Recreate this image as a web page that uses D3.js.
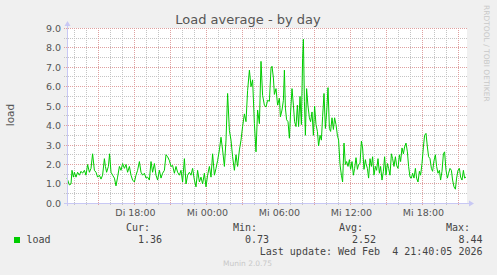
<!DOCTYPE html>
<html>
<head>
<meta charset="utf-8">
<script src="https://cdn.jsdelivr.net/npm/d3@7"></script>
<style>
  body { margin: 0; background: #f0f0f0; }
  svg { display: block; font-family: "DejaVu Sans", sans-serif; }
</style>
</head>
<body>
<svg id="chart" width="497" height="275"></svg>
<script>
// minutes after the graph start (Di 12:20:05), one reading per point
const minutes = [
  0, 12, 20, 25, 32, 37, 45, 53, 62, 70, 78, 87, 95, 103, 112, 120, 128, 137, 145, 153,
  162, 170, 178, 187, 192, 198, 207, 213, 220, 228, 237, 245, 253, 262, 270, 278, 287, 295, 303, 312,
  320, 328, 337, 345, 353, 362, 370, 378, 387, 395, 403, 412, 420, 428, 437, 445, 453, 462, 470, 478,
  487, 495,
  503, 512, 520, 528, 537, 545, 553, 562, 570, 578, 587, 595, 603, 612, 620, 628, 637, 645, 653, 662,
  670, 678, 687, 695, 703, 712, 720, 728, 737, 745, 753, 762, 770, 778, 787, 795, 803, 812, 820, 828,
  837, 845, 853, 862, 870, 878, 887, 895, 903, 912, 920, 928, 937, 945, 953, 962, 970, 978, 987, 995,
  1003, 1012, 1020, 1025, 1032, 1037, 1045, 1053, 1062, 1067, 1075, 1082, 1087, 1092, 1098, 1105, 1112, 1118, 1125, 1132,
  1138, 1145, 1152, 1158, 1165, 1172, 1178, 1182, 1187, 1192, 1198, 1205, 1212, 1218, 1225, 1232, 1238, 1245, 1252, 1258,
  1265, 1272, 1278, 1285, 1292, 1298, 1305, 1312, 1318, 1325, 1332, 1338, 1345, 1352, 1358, 1365, 1372, 1378, 1385, 1392,
  1398, 1405, 1412, 1418, 1425, 1432, 1438, 1445, 1452, 1458, 1465, 1472, 1478, 1485, 1492,
  1495, 1502, 1508, 1515, 1522, 1528, 1535, 1542, 1548, 1555, 1562, 1568, 1575, 1582, 1588, 1595, 1602, 1608, 1615, 1622,
  1628, 1635, 1642, 1648, 1655, 1662, 1668, 1675, 1682, 1688, 1695, 1702, 1708, 1715, 1722, 1728, 1735, 1742, 1748, 1755,
  1762, 1768, 1775, 1782, 1788, 1795, 1802, 1808, 1815, 1822, 1828, 1835, 1842, 1848, 1855, 1862, 1868, 1875, 1882, 1888,
  1895, 1902, 1908, 1915, 1922, 1928, 1935, 1942, 1948, 1955, 1962, 1968, 1975, 1982, 1988, 1995
];
const loads = [
  1.3, 0.95, 1.0, 1.7, 1.35, 1.6, 1.35, 1.6, 1.45, 1.65, 1.55, 1.7, 1.45, 2.0, 1.6, 1.8, 2.55, 1.7, 1.6, 1.35,
  1.45, 1.25, 1.45, 2.3, 1.9, 1.6, 1.9, 2.55, 1.6, 1.45, 1.3, 0.9, 1.35, 1.9, 1.7, 2.05, 1.8, 2.0, 1.6, 1.9,
  1.45, 1.2, 1.1, 1.45, 1.7, 2.15, 1.6, 1.45, 1.55, 1.3, 1.35, 1.2, 2.15, 1.6, 2.05, 1.45, 1.2, 1.7, 1.3, 1.55,
  1.7, 2.5,
  2.4, 2.2, 1.9, 1.95, 1.55, 1.9, 1.6, 1.45, 1.7, 1.1, 2.3, 1.0, 1.45, 1.6, 1.45, 1.8, 1.2, 0.85, 1.7, 1.1,
  1.35, 1.0, 1.55, 0.85, 1.45, 1.9, 1.35, 2.55, 1.45, 1.8, 2.2, 2.75, 3.4, 2.75, 1.9, 3.25, 5.65, 3.75, 3.25, 2.4,
  1.7, 2.5, 1.9, 2.75, 3.25, 3.95, 4.6, 4.2, 5.8, 6.85, 6.0, 6.35, 4.1, 2.65, 4.8, 4.1, 7.3, 5.55, 5.05, 4.95,
  5.3, 5.25, 6.95, 7.05, 6.45, 5.6, 5.9, 5.05, 5.4, 4.45, 4.8, 5.3, 6.85, 4.9, 4.3, 4.2, 3.35, 4.7, 5.9, 5.05,
  4.2, 3.95, 5.05, 3.95, 5.5, 4.05, 7.45, 8.44, 5.25, 3.5, 5.9, 5.0, 4.4, 4.2, 4.7, 3.5, 5.0, 4.05, 3.7, 2.95,
  3.5, 3.25, 4.45, 5.65, 3.85, 4.65, 5.95, 3.85, 3.7, 4.4, 3.8, 4.4, 4.05, 3.5, 3.25, 2.0, 1.45, 1.1, 3.1, 2.0,
  2.15, 1.9, 2.25, 1.75, 2.15, 1.45, 1.8, 2.35, 1.75, 2.0, 2.05, 3.2, 2.85, 1.75, 2.25,
  2.05, 1.8, 1.3, 2.3, 1.9, 2.4, 1.45, 1.9, 1.7, 2.3, 1.55, 1.9, 1.2, 1.65, 2.4, 1.45, 2.05, 1.8, 1.45, 2.55,
  2.3, 1.9, 2.4, 1.95, 1.8, 2.5, 2.15, 2.85, 2.55, 2.9, 3.1, 2.65, 1.9, 1.35, 1.3, 1.55, 1.3, 1.8, 1.3, 1.1,
  1.65, 1.45, 2.05, 2.9, 3.5, 3.6, 2.9, 2.4, 2.3, 1.8, 1.65, 2.2, 2.5, 1.9, 1.55, 1.7, 1.2, 1.65, 2.55, 2.65,
  1.7, 1.3, 1.55, 1.8, 1.7, 1.2, 0.85, 0.73, 1.3, 1.7, 1.8, 1.35, 1.2, 1.7, 1.3, 1.36
];

const dayNames = ["So", "Mo", "Di", "Mi", "Do", "Fr", "Sa"];
const yTicks = [0, 1, 2, 3, 4, 5, 6, 7, 8, 9];
const legendHeads = ["Cur:", "Min:", "Avg:", "Max:"];
const legendValues = ["1.36", "0.73", "2.52", "8.44"];
const lastUpdate = "Last update: Wed Feb  4 21:40:05 2026";

const start = new Date(2026, 1, 3, 12, 20, 5);
const end = new Date(2026, 1, 4, 21, 40, 5);

const svg = d3.select("#chart");
const plotL = 67, plotR = 467, plotT = 28, plotB = 203;

const x = d3.scaleTime().domain([start, end]).range([plotL, plotR]);
const y = d3.scaleLinear().domain([0, 9]).range([plotB + 0.4, plotT + 0.3]);
const snap = v => Math.round(v - 0.5) + 0.5;

const data = minutes.map((m, i) => ({ t: new Date(+start + m * 60000), v: loads[i] }));

// canvas
svg.append("rect").attr("width", 497).attr("height", 275).attr("fill", "#f0f0f0");
svg.append("rect")
  .attr("x", plotL).attr("y", plotT)
  .attr("width", plotR - plotL).attr("height", plotB - plotT)
  .attr("fill", "#fff");

// grid: minor (grey) and major (red), dotted
const minorCol = "#c4c4c4", majorCol = "#dfa0a0";
const minorY = d3.range(0.5, 9, 1);
svg.append("g").selectAll("line").data(minorY).join("line")
  .attr("x1", plotL - 3).attr("x2", plotR)
  .attr("y1", d => snap(y(d))).attr("y2", d => snap(y(d)))
  .attr("stroke", minorCol).attr("stroke-dasharray", "1,1");

const hours = d3.timeHour.range(d3.timeHour.ceil(start), end);
svg.append("g").selectAll("line").data(hours.filter(h => h.getHours() % 3 !== 0)).join("line")
  .attr("x1", d => snap(x(d))).attr("x2", d => snap(x(d)))
  .attr("y1", plotT).attr("y2", plotB + 2)
  .attr("stroke", minorCol).attr("stroke-dasharray", "1,1");

svg.append("g").selectAll("line").data(yTicks.slice(1)).join("line")
  .attr("x1", plotL - 3).attr("x2", plotR)
  .attr("y1", d => snap(y(d))).attr("y2", d => snap(y(d)))
  .attr("stroke", majorCol).attr("stroke-dasharray", "1,1");

svg.append("g").selectAll("line").data(hours.filter(h => h.getHours() % 3 === 0)).join("line")
  .attr("x1", d => snap(x(d))).attr("x2", d => snap(x(d)))
  .attr("y1", plotT).attr("y2", plotB + 2)
  .attr("stroke", majorCol).attr("stroke-dasharray", "1,1");

// load line
svg.append("path")
  .datum(data)
  .attr("fill", "none")
  .attr("stroke", "#00cc00")
  .attr("stroke-width", 1)
  .attr("d", d3.line().x(d => x(d.t)).y(d => y(d.v)));

// axis lines with arrows
const axisCol = "#c8c8f4";
svg.append("line").attr("x1", plotL + 0.5).attr("x2", plotL + 0.5)
  .attr("y1", plotB + 3).attr("y2", 25).attr("stroke", axisCol);
svg.append("path").attr("d", `M${plotL - 2.5},26 L${plotL + 0.5},21 L${plotL + 3.5},26 Z`).attr("fill", axisCol);
svg.append("line").attr("x1", plotL - 3).attr("x2", plotR + 3)
  .attr("y1", plotB + 0.5).attr("y2", plotB + 0.5).attr("stroke", axisCol);
svg.append("path").attr("d", `M${plotR + 2},${plotB - 2.5} L${plotR + 7},${plotB + 0.5} L${plotR + 2},${plotB + 3.5} Z`).attr("fill", axisCol);

// tick labels
const yAxis = svg.append("g")
  .attr("transform", `translate(${plotL},0)`)
  .call(d3.axisLeft(y).tickValues(yTicks).tickFormat(d3.format(".1f")).tickSize(0).tickPadding(6));
const xAxis = svg.append("g")
  .attr("transform", `translate(0,${plotB})`)
  .call(d3.axisBottom(x)
    .ticks(d3.timeHour.every(6))
    .tickFormat(d => dayNames[d.getDay()] + " " + d3.timeFormat("%H:%M")(d))
    .tickSize(0).tickPadding(6.5));
[yAxis, xAxis].forEach(g => {
  g.select(".domain").remove();
  g.selectAll("text").attr("fill", "#555").style("font-family", "DejaVu Sans").style("font-size", "9.5px");
});

// titles
svg.append("text").attr("x", 248).attr("y", 24).attr("text-anchor", "middle")
  .attr("fill", "#555").style("font-size", "13px").text("Load average - by day");
svg.append("text").attr("transform", "translate(14,115) rotate(-90)").attr("text-anchor", "middle")
  .attr("fill", "#555").style("font-size", "10.5px").text("load");
svg.append("text").attr("transform", "translate(484,5) rotate(90)")
  .attr("fill", "#c8c8c8").style("font-size", "7.5px").text("RRDTOOL / TOBI OETIKER");

// legend
const mono = "'DejaVu Sans Mono', monospace";
const colEnds = [150, 257, 363, 470];
const valEnds = [162, 269, 376, 482.5];
svg.append("g").selectAll("text").data(legendHeads).join("text")
  .attr("x", (d, i) => colEnds[i]).attr("y", 230.5).attr("text-anchor", "end")
  .attr("fill", "#444").style("font-family", mono).style("font-size", "10px").text(d => d);
svg.append("rect").attr("x", 14).attr("y", 237).attr("width", 6).attr("height", 6).attr("fill", "#00cc00");
svg.append("text").attr("x", 26.5).attr("y", 243)
  .attr("fill", "#444").style("font-family", mono).style("font-size", "10px").text("load");
svg.append("g").selectAll("text").data(legendValues).join("text")
  .attr("x", (d, i) => valEnds[i]).attr("y", 243).attr("text-anchor", "end")
  .attr("fill", "#444").style("font-family", mono).style("font-size", "10px").text(d => d);
svg.append("text").attr("x", 482.5).attr("y", 255).attr("text-anchor", "end")
  .attr("fill", "#444").style("font-family", mono).style("font-size", "10px")
  .style("white-space", "pre").text(lastUpdate);
svg.append("text").attr("x", 247.5).attr("y", 266).attr("text-anchor", "middle")
  .attr("fill", "#c8c8c8").style("font-size", "7.5px").text("Munin 2.0.75");
</script>
</body>
</html>
